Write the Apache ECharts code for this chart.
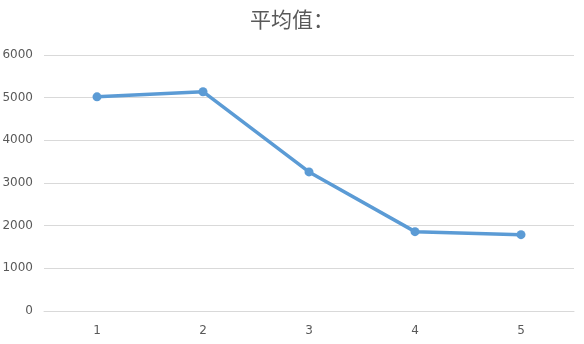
<!DOCTYPE html>
<html>
<head>
<meta charset="utf-8">
<script src="https://cdn.jsdelivr.net/npm/echarts@6/dist/echarts.min.js"></script>
<style>
  html, body { margin: 0; padding: 0; background: #fff; }
  #main { width: 584px; height: 344px; }
</style>
</head>
<body>
<div id="main"></div>
<script>
var titleText = "平均值：";
var categories = ["1", "2", "3", "4", "5"];
var averages = [5020, 5140, 3260, 1860, 1790];

var chart = echarts.init(document.getElementById("main"));
var labelColor = "#595959";
var gridColor = "#d9d9d9";

chart.setOption({
    animation: false,
    title: {
        text: titleText,
        left: "center",
        top: 4,
        textStyle: {
            fontFamily: "Noto Sans CJK SC",
            fontWeight: "normal",
            fontSize: 21,
            color: labelColor
        }
    },
    grid: {
        left: 44,
        right: 10,
        top: 55,
        bottom: 33,
        containLabel: false,
        outerBoundsMode: "none"
    },
    xAxis: {
        type: "category",
        data: categories,
        boundaryGap: true,
        axisLine: { lineStyle: { color: gridColor } },
        axisTick: { show: false },
        axisLabel: {
            color: labelColor,
            fontSize: 12,
            fontFamily: "DejaVu Sans",
            margin: 14
        }
    },
    yAxis: {
        type: "value",
        min: 0,
        max: 6000,
        interval: 1000,
        axisLine: { show: false },
        axisTick: { show: false },
        splitLine: { lineStyle: { color: gridColor } },
        axisLabel: {
            color: labelColor,
            fontSize: 12,
            fontFamily: "DejaVu Sans",
            margin: 11,
            formatter: function (v) { return String(v); }
        }
    },
    series: [{
        name: titleText,
        type: "line",
        data: averages,
        symbol: "circle",
        symbolSize: 9,
        itemStyle: { color: "#5b9bd5" },
        lineStyle: { color: "#5b9bd5", width: 3.5 }
    }]
});
</script>
</body>
</html>
